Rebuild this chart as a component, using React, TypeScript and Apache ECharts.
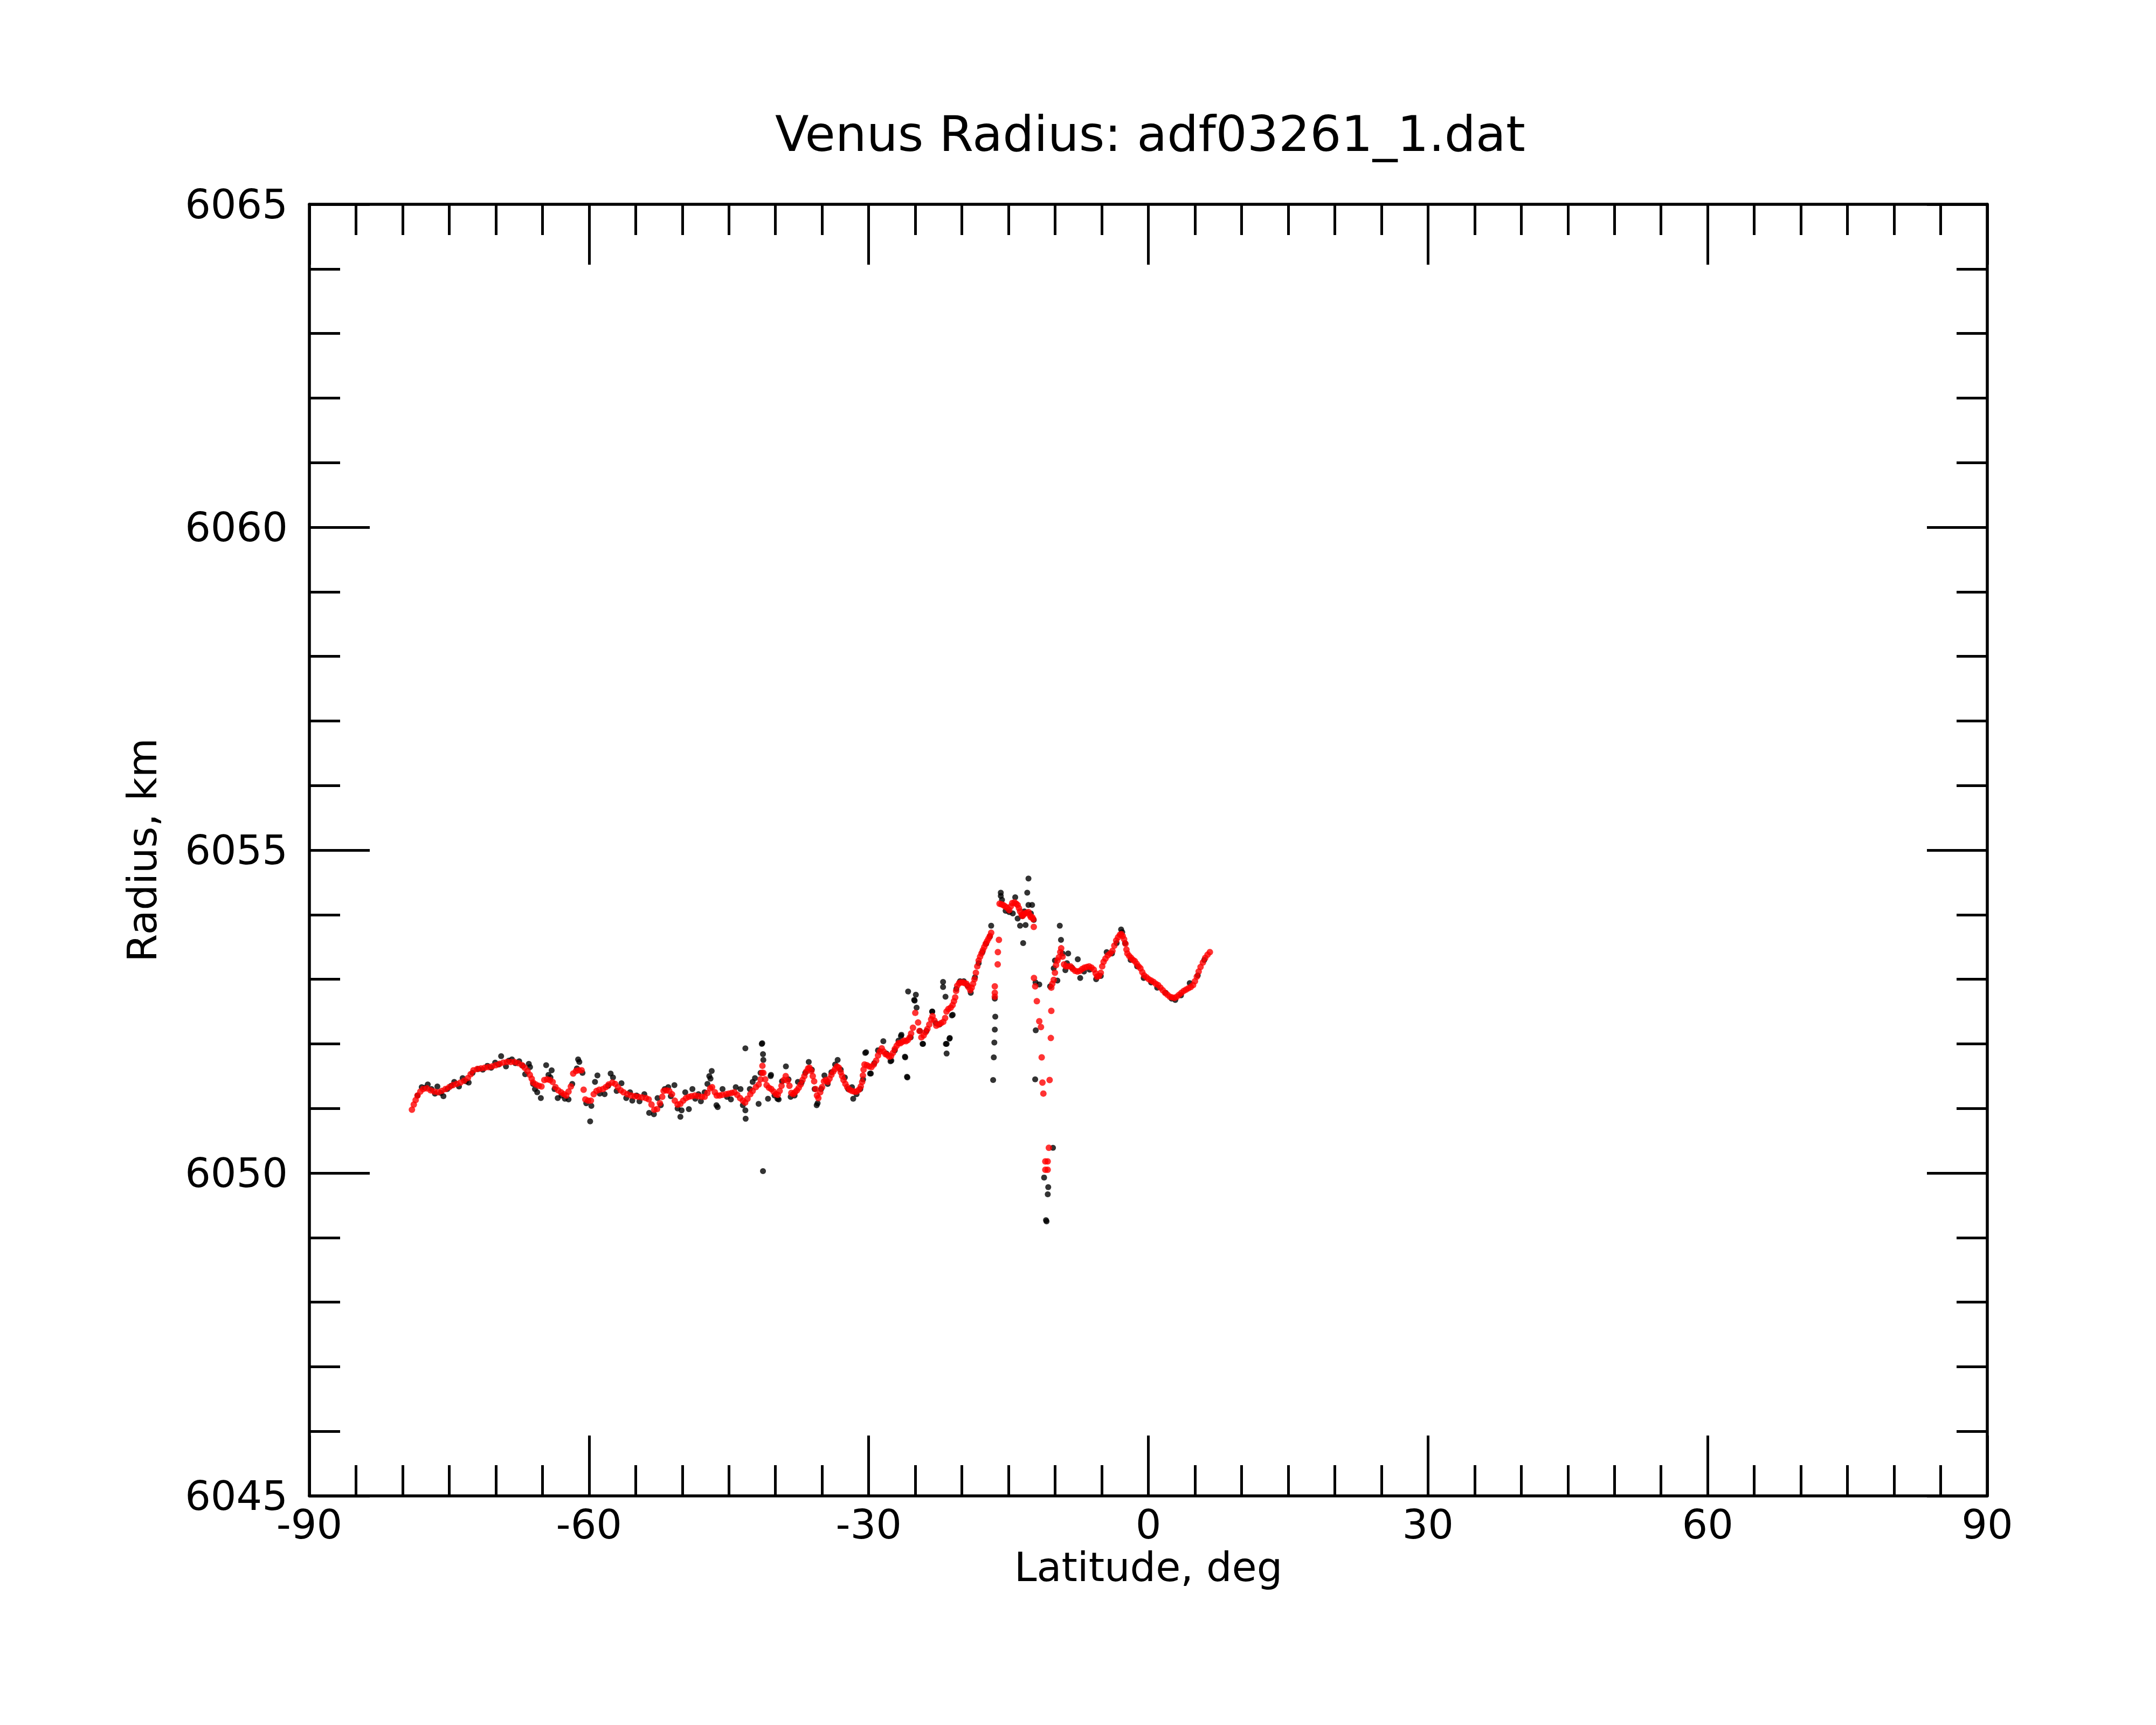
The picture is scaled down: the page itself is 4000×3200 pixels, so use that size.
import React, { useEffect, useRef } from "react";
import * as echarts from "echarts";

// ---- Data (latitude deg, radius km) ----
const TITLE = "Venus Radius: adf03261_1.dat";
const X_NAME = "Latitude, deg";
const Y_NAME = "Radius, km";

// Red (smoothed) points, south to north
const redSouth: number[][] = [
  [-79.0, 6050.98], [-78.8, 6051.06], [-78.6, 6051.13], [-78.4, 6051.2], [-78.1, 6051.26], [-77.8, 6051.3],
  [-77.4, 6051.31], [-77.0, 6051.28], [-76.6, 6051.26], [-76.2, 6051.25], [-75.8, 6051.27], [-75.4, 6051.3],
  [-75.0, 6051.33], [-74.6, 6051.36], [-74.2, 6051.38], [-73.8, 6051.4], [-73.4, 6051.43], [-73.0, 6051.47],
  [-72.7, 6051.53], [-72.4, 6051.59], [-72.0, 6051.61], [-71.6, 6051.62], [-71.2, 6051.63], [-70.8, 6051.64],
  [-70.4, 6051.65], [-70.0, 6051.67], [-69.6, 6051.69], [-69.2, 6051.71], [-68.8, 6051.72], [-68.4, 6051.72],
  [-68.0, 6051.72], [-67.6, 6051.7], [-67.2, 6051.67], [-66.9, 6051.63], [-66.6, 6051.58], [-66.35, 6051.52],
  [-66.15, 6051.46], [-66.0, 6051.4], [-65.7, 6051.37], [-65.4, 6051.35], [-65.1, 6051.34], [-64.8, 6051.44],
  [-64.5, 6051.45], [-64.2, 6051.44], [-63.9, 6051.41], [-63.6, 6051.33], [-63.3, 6051.28], [-63.0, 6051.25],
  [-62.7, 6051.22], [-62.45, 6051.2], [-62.2, 6051.26], [-61.95, 6051.34], [-61.7, 6051.54], [-61.4, 6051.58],
  [-61.1, 6051.59], [-60.8, 6051.59], [-60.58, 6051.29], [-60.4, 6051.14], [-60.1, 6051.12], [-59.8, 6051.12],
  [-59.5, 6051.22], [-59.2, 6051.27], [-58.9, 6051.29], [-58.5, 6051.3], [-58.2, 6051.33], [-57.9, 6051.37],
  [-57.5, 6051.4], [-57.2, 6051.38], [-56.9, 6051.33], [-56.6, 6051.28], [-56.3, 6051.25], [-55.9, 6051.22],
  [-55.5, 6051.2], [-55.1, 6051.19], [-54.7, 6051.18], [-54.3, 6051.17], [-53.9, 6051.16], [-53.6, 6051.14],
  [-53.3, 6051.06], [-53.0, 6050.98], [-52.7, 6050.99], [-52.4, 6051.08], [-52.15, 6051.18], [-52.0, 6051.27],
  [-51.7, 6051.28], [-51.4, 6051.27], [-51.1, 6051.22], [-50.8, 6051.12], [-50.5, 6051.06], [-50.2, 6051.07],
  [-49.9, 6051.12], [-49.6, 6051.16], [-49.3, 6051.18], [-49.0, 6051.19], [-48.65, 6051.2], [-48.3, 6051.19],
  [-47.9, 6051.18], [-47.6, 6051.18], [-47.3, 6051.24], [-47.0, 6051.31], [-46.8, 6051.33], [-46.5, 6051.25],
  [-46.3, 6051.2], [-46.0, 6051.2], [-45.7, 6051.21], [-45.3, 6051.22], [-45.0, 6051.23], [-44.7, 6051.24],
  [-44.4, 6051.25], [-44.1, 6051.21], [-43.8, 6051.16], [-43.5, 6051.12], [-43.25, 6051.09], [-43.0, 6051.15],
  [-42.7, 6051.22], [-42.45, 6051.27], [-42.1, 6051.33], [-41.8, 6051.37], [-41.6, 6051.45], [-41.45, 6051.55],
  [-41.4, 6051.66],
];

const redMiddle: number[][] = [
  [-41.3, 6051.55], [-41.1, 6051.45], [-40.95, 6051.36], [-40.7, 6051.32], [-40.45, 6051.3], [-40.2, 6051.26],
  [-39.95, 6051.22], [-39.75, 6051.21], [-39.55, 6051.27], [-39.35, 6051.35], [-39.1, 6051.44], [-38.9, 6051.5],
  [-38.7, 6051.43], [-38.5, 6051.35], [-38.3, 6051.24], [-38.1, 6051.22], [-37.9, 6051.25], [-37.7, 6051.28],
  [-37.5, 6051.32], [-37.3, 6051.37], [-37.1, 6051.44], [-36.9, 6051.5], [-36.7, 6051.57], [-36.5, 6051.62],
  [-36.35, 6051.63], [-36.15, 6051.58], [-36.0, 6051.5], [-35.85, 6051.42], [-35.7, 6051.3], [-35.55, 6051.2],
  [-35.4, 6051.16], [-35.2, 6051.25], [-35.0, 6051.33], [-34.8, 6051.42], [-34.6, 6051.44], [-34.4, 6051.41],
  [-34.2, 6051.46], [-34.0, 6051.52], [-33.8, 6051.57], [-33.6, 6051.61], [-33.4, 6051.65], [-33.2, 6051.63],
  [-33.0, 6051.56], [-32.85, 6051.5], [-32.7, 6051.44], [-32.5, 6051.38], [-32.3, 6051.33], [-32.05, 6051.29],
  [-31.8, 6051.27], [-31.55, 6051.26], [-31.3, 6051.26], [-31.05, 6051.29], [-30.85, 6051.34], [-30.7, 6051.41],
  [-30.62, 6051.51], [-30.55, 6051.6], [-30.45, 6051.68], [-30.2, 6051.67], [-29.95, 6051.65], [-29.7, 6051.64],
  [-29.45, 6051.68], [-29.2, 6051.74], [-29.0, 6051.82], [-28.8, 6051.88], [-28.6, 6051.93], [-28.4, 6051.88],
  [-28.2, 6051.84], [-28.0, 6051.83], [-27.8, 6051.8], [-27.6, 6051.81], [-27.4, 6051.86], [-27.2, 6051.92],
  [-27.0, 6051.97], [-26.8, 6052.01], [-26.6, 6052.01], [-26.4, 6052.03], [-26.2, 6052.05], [-26.0, 6052.04],
  [-25.8, 6052.06], [-25.6, 6052.1], [-25.45, 6052.16], [-25.25, 6052.25], [-25.0, 6052.48], [-24.7, 6052.33],
  [-24.55, 6052.2], [-24.35, 6052.1], [-24.1, 6052.13], [-23.9, 6052.18], [-23.7, 6052.23], [-23.5, 6052.3],
  [-23.3, 6052.38], [-23.15, 6052.43], [-22.95, 6052.36], [-22.75, 6052.28], [-22.5, 6052.3], [-22.25, 6052.32],
  [-22.0, 6052.34], [-21.8, 6052.4], [-21.65, 6052.5], [-21.45, 6052.54], [-21.2, 6052.56], [-21.0, 6052.6],
  [-20.85, 6052.66], [-20.72, 6052.72], [-20.62, 6052.82], [-20.5, 6052.9], [-20.3, 6052.94], [-20.1, 6052.95],
  [-19.9, 6052.95], [-19.7, 6052.94], [-19.5, 6052.93], [-19.3, 6052.88], [-19.1, 6052.83], [-18.95, 6052.87],
  [-18.8, 6052.93], [-18.65, 6053.0], [-18.5, 6053.1], [-18.35, 6053.2], [-18.2, 6053.29], [-18.05, 6053.35],
  [-17.9, 6053.4], [-17.75, 6053.45], [-17.6, 6053.5], [-17.45, 6053.55], [-17.3, 6053.59], [-17.15, 6053.63],
  [-17.0, 6053.67], [-16.86, 6053.72],
];

const redPeak: number[][] = [
  [-16.47, 6052.73], [-16.47, 6052.79], [-16.47, 6052.89], [-16.16, 6053.23], [-16.14, 6053.42], [-16.03, 6053.61],
  [-15.96, 6054.17], [-15.75, 6054.16], [-15.57, 6054.15], [-15.38, 6054.13], [-15.18, 6054.11], [-14.92, 6054.07],
  [-14.75, 6054.13], [-14.6, 6054.18], [-14.36, 6054.19], [-14.18, 6054.17], [-14.02, 6054.15], [-13.88, 6054.1],
  [-13.76, 6054.05], [-13.6, 6054.0], [-13.5, 6053.98], [-13.38, 6054.0], [-13.25, 6054.02], [-13.05, 6054.03],
  [-12.86, 6054.04], [-12.7, 6053.99], [-12.6, 6053.96], [-12.45, 6053.96], [-12.34, 6053.93], [-12.29, 6053.81],
  [-12.27, 6053.02], [-12.14, 6052.89], [-11.96, 6052.66], [-11.7, 6052.35], [-11.52, 6052.26], [-11.44, 6051.79],
  [-11.36, 6051.4], [-11.26, 6051.23], [-11.05, 6050.18], [-10.8, 6050.18], [-11.05, 6050.05], [-10.8, 6050.05],
  [-10.67, 6050.39], [-10.59, 6051.44], [-10.46, 6052.09], [-10.41, 6052.51],
];

const redNorth: number[][] = [
  [-10.41, 6052.87], [-10.3, 6052.93], [-10.15, 6052.99], [-10.02, 6053.1], [-9.9, 6053.22], [-9.75, 6053.29],
  [-9.6, 6053.34], [-9.45, 6053.42], [-9.35, 6053.48], [-9.2, 6053.35], [-9.05, 6053.23], [-8.85, 6053.2],
  [-8.6, 6053.2], [-8.35, 6053.2], [-8.1, 6053.16], [-7.85, 6053.13], [-7.6, 6053.12], [-7.35, 6053.13],
  [-7.1, 6053.16], [-6.85, 6053.18], [-6.6, 6053.19], [-6.35, 6053.2], [-6.1, 6053.18], [-5.85, 6053.15],
  [-5.65, 6053.09], [-5.5, 6053.04], [-5.3, 6053.05], [-5.1, 6053.1], [-4.95, 6053.2], [-4.8, 6053.27],
  [-4.6, 6053.32], [-4.35, 6053.37], [-4.1, 6053.4], [-3.85, 6053.44], [-3.65, 6053.52], [-3.45, 6053.6],
  [-3.25, 6053.65], [-3.05, 6053.69], [-2.9, 6053.7], [-2.75, 6053.67], [-2.6, 6053.62], [-2.45, 6053.55],
  [-2.35, 6053.46], [-2.25, 6053.4], [-2.05, 6053.36], [-1.85, 6053.33], [-1.65, 6053.3], [-1.45, 6053.28],
  [-1.25, 6053.24], [-1.05, 6053.2], [-0.85, 6053.17], [-0.65, 6053.11], [-0.45, 6053.06], [-0.2, 6053.03],
  [0.05, 6053.0], [0.3, 6052.98], [0.55, 6052.96], [0.8, 6052.93], [1.05, 6052.91], [1.3, 6052.87],
  [1.55, 6052.83], [1.8, 6052.79], [2.05, 6052.76], [2.3, 6052.73], [2.55, 6052.72], [2.8, 6052.71],
  [3.05, 6052.73], [3.3, 6052.76], [3.55, 6052.79], [3.8, 6052.82], [4.05, 6052.84], [4.3, 6052.86],
  [4.55, 6052.88], [4.8, 6052.91], [5.0, 6052.97], [5.2, 6053.04], [5.4, 6053.12], [5.6, 6053.19],
  [5.85, 6053.26], [6.1, 6053.33], [6.35, 6053.38], [6.6, 6053.42],
];

// Black (raw) points
const blackSouth: number[][] = [
  [-78.4, 6051.2], [-77.95, 6051.33], [-77.6, 6051.32], [-77.3, 6051.37], [-76.9, 6051.3], [-76.53, 6051.23],
  [-76.27, 6051.34], [-75.9, 6051.24], [-75.62, 6051.19], [-75.2, 6051.3], [-74.8, 6051.35], [-74.46, 6051.41],
  [-73.95, 6051.34], [-73.56, 6051.47], [-73.2, 6051.42], [-72.91, 6051.4], [-72.5, 6051.55], [-71.88, 6051.61],
  [-71.4, 6051.6], [-70.9, 6051.66], [-70.5, 6051.63], [-70.07, 6051.71], [-69.7, 6051.68], [-69.43, 6051.81],
  [-68.91, 6051.65], [-68.6, 6051.74], [-68.27, 6051.76], [-67.9, 6051.7], [-67.49, 6051.73], [-67.1, 6051.66],
  [-66.85, 6051.53], [-66.46, 6051.69], [-66.33, 6051.64], [-66.0, 6051.38], [-65.8, 6051.3], [-65.56, 6051.25],
  [-65.17, 6051.16], [-64.6, 6051.67], [-64.35, 6051.52], [-64.14, 6051.48], [-64.01, 6051.59], [-63.7, 6051.3],
  [-63.36, 6051.16], [-62.95, 6051.2], [-62.59, 6051.15], [-62.2, 6051.14], [-61.8, 6051.38], [-61.3, 6051.62],
  [-61.17, 6051.76], [-61.04, 6051.72], [-60.7, 6051.55], [-60.3, 6051.08], [-59.88, 6050.8], [-59.75, 6051.04],
  [-59.36, 6051.41], [-59.1, 6051.51], [-58.85, 6051.23], [-58.33, 6051.22], [-57.95, 6051.35], [-57.68, 6051.54],
  [-57.43, 6051.48], [-57.04, 6051.27], [-56.52, 6051.39], [-56.01, 6051.16], [-55.6, 6051.25], [-55.36, 6051.12],
  [-54.9, 6051.2], [-54.59, 6051.11], [-54.07, 6051.22], [-53.55, 6050.93], [-53.04, 6050.91], [-52.65, 6051.16],
  [-52.3, 6051.05], [-51.88, 6051.3], [-51.5, 6051.33], [-51.23, 6051.19], [-50.84, 6051.36], [-50.5, 6051.0],
  [-50.2, 6050.87], [-50.07, 6050.97], [-49.68, 6051.25], [-49.29, 6050.99], [-48.91, 6051.3], [-48.6, 6051.15],
  [-48.26, 6051.22], [-48.0, 6051.11], [-47.6, 6051.25], [-47.3, 6051.38], [-47.1, 6051.5], [-46.97, 6051.46],
  [-46.84, 6051.58], [-46.33, 6051.05], [-46.2, 6051.02], [-45.68, 6051.3], [-45.2, 6051.18], [-44.78, 6051.14],
  [-44.26, 6051.33], [-43.75, 6051.3], [-43.5, 6051.05], [-43.23, 6051.93], [-43.23, 6050.97], [-43.2, 6050.84],
  [-42.75, 6051.3], [-42.45, 6051.41], [-42.2, 6051.47], [-41.81, 6051.07], [-41.6, 6051.55], [-41.47, 6052.0],
  [-41.42, 6052.01], [-41.34, 6051.84], [-41.3, 6051.75], [-41.34, 6050.03],
];

const blackMiddle: number[][] = [
  [-40.8, 6051.15], [-40.52, 6051.5], [-40.48, 6051.52], [-40.1, 6051.2], [-39.79, 6051.15], [-39.66, 6051.14],
  [-39.3, 6051.42], [-38.88, 6051.65], [-38.6, 6051.45], [-38.37, 6051.18], [-37.95, 6051.2], [-37.59, 6051.41],
  [-37.2, 6051.4], [-36.8, 6051.55], [-36.43, 6051.72], [-36.1, 6051.6], [-35.8, 6051.3], [-35.58, 6051.05],
  [-35.48, 6051.08], [-35.1, 6051.3], [-34.75, 6051.51], [-34.4, 6051.38], [-34.0, 6051.56], [-33.6, 6051.68],
  [-33.33, 6051.75], [-33.0, 6051.6], [-32.56, 6051.48], [-32.2, 6051.3], [-31.79, 6051.33], [-31.66, 6051.15],
  [-31.3, 6051.22], [-30.9, 6051.3], [-30.6, 6051.45], [-30.37, 6051.86], [-30.28, 6051.87], [-29.85, 6051.54],
  [-29.77, 6051.54], [-29.4, 6051.7], [-29.0, 6051.9], [-28.43, 6052.04], [-28.1, 6051.85], [-27.66, 6051.73],
  [-27.57, 6051.74], [-27.2, 6051.9], [-26.8, 6052.05], [-26.54, 6052.12], [-26.49, 6052.14], [-26.11, 6051.8],
  [-26.08, 6051.79], [-25.89, 6051.49], [-25.85, 6051.48], [-25.77, 6052.81], [-25.5, 6052.1], [-25.12, 6052.68],
  [-25.07, 6052.67], [-24.94, 6052.76], [-24.86, 6052.56], [-24.5, 6052.2], [-24.22, 6052.0], [-24.17, 6052.0],
  [-23.8, 6052.2], [-23.19, 6052.5], [-23.18, 6052.5], [-22.8, 6052.32], [-22.4, 6052.3], [-22.02, 6052.96],
  [-22.02, 6052.88], [-21.76, 6052.73], [-21.72, 6052.0], [-21.64, 6051.85], [-21.64, 6052.0], [-21.33, 6052.08],
  [-21.3, 6052.09], [-21.07, 6052.44], [-20.99, 6052.45], [-20.6, 6052.85], [-20.2, 6052.97], [-19.8, 6052.97],
  [-19.4, 6052.9], [-19.05, 6052.79], [-18.6, 6053.03], [-18.2, 6053.25], [-17.8, 6053.42], [-17.4, 6053.55],
  [-17.0, 6053.66], [-16.86, 6053.83],
];

const blackPeak: number[][] = [
  [-16.42, 6052.42], [-16.47, 6052.22], [-16.52, 6052.02], [-16.58, 6051.79], [-16.65, 6051.44], [-16.47, 6052.7],
  [-15.83, 6054.34], [-15.83, 6054.29], [-15.7, 6054.23], [-15.31, 6054.06], [-14.92, 6054.04], [-14.54, 6054.02],
  [-14.28, 6054.27], [-14.02, 6053.94], [-13.76, 6053.83], [-13.43, 6053.56], [-13.17, 6053.84], [-12.99, 6054.34],
  [-12.86, 6054.56], [-12.86, 6054.15], [-12.6, 6054.02], [-12.47, 6054.15], [-12.29, 6053.92], [-13.3, 6054.05],
  [-13.55, 6053.98], [-12.14, 6051.45], [-12.08, 6052.21], [-11.7, 6052.92], [-11.18, 6049.93], [-10.74, 6049.78],
  [-10.79, 6049.67], [-10.92, 6049.25], [-10.98, 6049.27], [-10.23, 6050.39], [-12.1, 6052.95],
];

const blackNorth: number[][] = [
  [-10.54, 6052.89], [-10.15, 6053.17], [-10.02, 6053.29], [-9.76, 6052.98], [-9.5, 6053.83], [-9.37, 6053.61],
  [-9.2, 6053.4], [-8.9, 6053.14], [-8.73, 6053.25], [-8.6, 6053.4], [-8.2, 6053.18], [-7.57, 6053.31],
  [-7.31, 6053.02], [-6.9, 6053.12], [-6.3, 6053.15], [-5.6, 6053.0], [-5.1, 6053.05], [-4.47, 6053.42],
  [-3.9, 6053.4], [-3.4, 6053.56], [-2.92, 6053.77], [-2.8, 6053.73], [-2.5, 6053.56], [-1.9, 6053.3],
  [-1.2, 6053.2], [-0.5, 6053.02], [0.3, 6052.95], [0.95, 6052.87], [1.86, 6052.79], [2.5, 6052.7],
  [2.89, 6052.68], [3.5, 6052.75], [4.44, 6052.94], [5.3, 6053.06], [6.0, 6053.3],
];

// Axis ranges / ticks
const X_MIN = -90;
const X_MAX = 90;
const X_STEP = 30;
const Y_MIN = 6045;
const Y_MAX = 6065;
const Y_STEP = 5;

const FONT = "DejaVu Sans";

export default function App() {
  const ref = useRef<HTMLDivElement>(null);

  useEffect(() => {
    if (!ref.current) return;
    const chart = echarts.init(ref.current, null, { renderer: "svg" });

    const lineStyle = { color: "#000", width: 5.5 };
    const tickStyle = { color: "#000", width: 5 };
    const labelStyle = { fontSize: 75, fontFamily: FONT, color: "#000" };

    const makeX = (pos: "bottom" | "top") => ({
      type: "value",
      position: pos,
      min: X_MIN,
      max: X_MAX,
      interval: X_STEP,
      axisLine: { show: true, onZero: false, lineStyle },
      axisTick: { show: true, inside: true, length: 112, lineStyle: tickStyle },
      minorTick: { show: true, splitNumber: 6, length: 57, lineStyle: tickStyle },
      splitLine: { show: false },
      minorSplitLine: { show: false },
      axisLabel:
        pos === "bottom"
          ? { show: true, margin: 15, ...labelStyle, formatter: (v: number) => String(v) }
          : { show: false },
      name: pos === "bottom" ? X_NAME : "",
      nameLocation: "middle",
      nameGap: 94,
      nameTextStyle: labelStyle,
    });

    const makeY = (pos: "left" | "right") => ({
      type: "value",
      position: pos,
      min: Y_MIN,
      max: Y_MAX,
      interval: Y_STEP,
      axisLine: { show: true, onZero: false, lineStyle },
      axisTick: { show: true, inside: true, length: 112, lineStyle: tickStyle },
      minorTick: { show: true, splitNumber: 5, length: 57, lineStyle: tickStyle },
      splitLine: { show: false },
      minorSplitLine: { show: false },
      axisLabel:
        pos === "left"
          ? { show: true, margin: 40, ...labelStyle, formatter: (v: number) => String(v) }
          : { show: false },
      name: pos === "left" ? Y_NAME : "",
      nameLocation: "middle",
      nameRotate: 90,
      nameGap: 273,
      nameTextStyle: labelStyle,
    });

    chart.setOption({
      animation: false,
      backgroundColor: "#fff",
      title: {
        text: TITLE,
        left: 1438,
        top: 202,
        padding: 0,
        textStyle: { fontSize: 91.5, fontWeight: "normal", fontFamily: FONT, color: "#000" },
      },
      grid: { left: 574, top: 379, width: 3113, height: 2396, containLabel: false },
      xAxis: [makeX("bottom"), makeX("top")],
      yAxis: [makeY("left"), makeY("right")],
      series: [
        {
          type: "scatter",
          name: "raw",
          xAxisIndex: 0,
          yAxisIndex: 0,
          data: [...blackSouth, ...blackMiddle, ...blackPeak, ...blackNorth],
          symbol: "circle",
          symbolSize: 11,
          itemStyle: { color: "#000" },
          silent: true,
          z: 2,
        },
        {
          type: "scatter",
          name: "smoothed",
          xAxisIndex: 0,
          yAxisIndex: 0,
          data: [...redSouth, ...redMiddle, ...redPeak, ...redNorth],
          symbol: "circle",
          symbolSize: 12,
          itemStyle: { color: "#ff0000" },
          silent: true,
          z: 3,
        },
      ],
    });

    return () => chart.dispose();
  }, []);

  return (
    <div
      ref={ref}
      style={{ position: "absolute", left: 0, top: 0, width: 4000, height: 3200, background: "#fff" }}
    />
  );
}
